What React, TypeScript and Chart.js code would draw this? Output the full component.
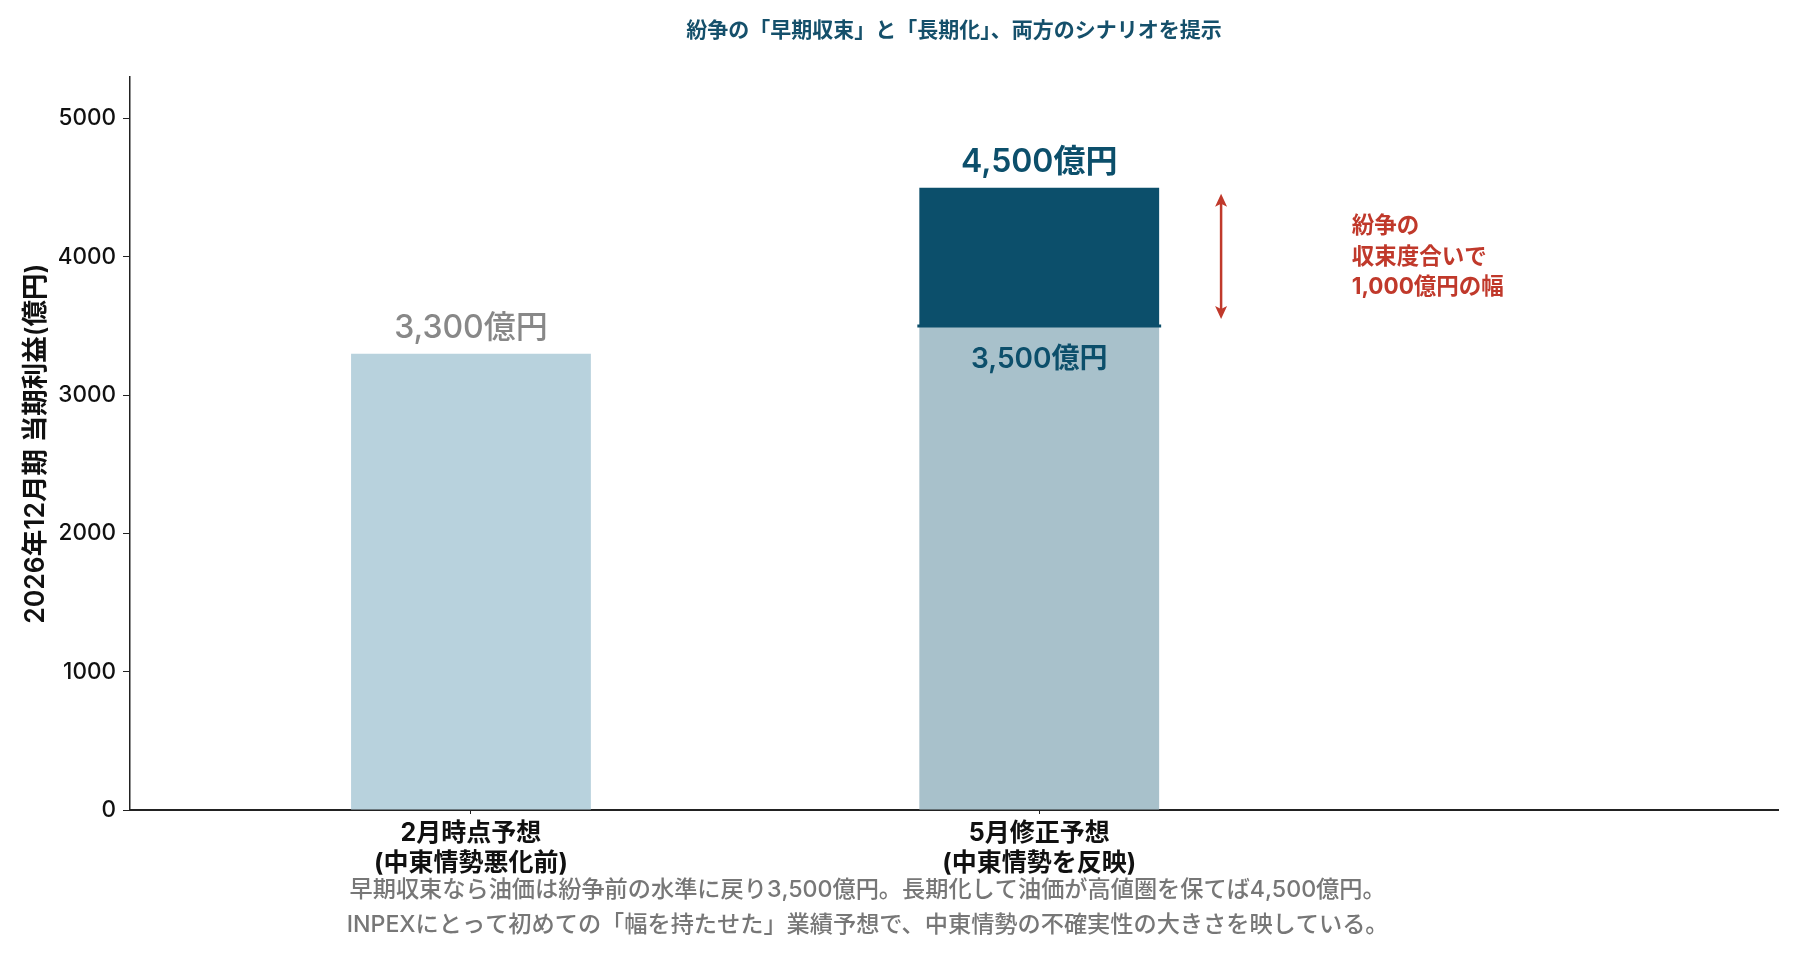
import { useEffect, useRef } from "react";
import { Chart, registerables } from "chart.js";

Chart.register(...registerables);

// ---- data ----
const CATEGORY_POSITIONS = [0, 1];
const CATEGORY_LABELS = [
  ["2月時点予想", "(中東情勢悪化前)"],
  ["5月修正予想", "(中東情勢を反映)"],
];
const FEB_FORECAST = [3300];
const MAY_EARLY_END = [3500];
const MAY_RANGE_WIDTH = [1000];
const FEB_LABEL = "3,300億円";
const MAY_HIGH_LABEL = "4,500億円";
const MAY_LOW_LABEL = "3,500億円";
const Y_TICKS = [0, 1000, 2000, 3000, 4000, 5000];
const Y_MAX = 5300;
const X_MIN = -0.6;
const X_MAX = 2.3;
const ARROW_X = 1.32;
const ARROW_RANGE = [3500, 4500];
const NOTE_X = 1.55;
const NOTE_Y = 4000;
const NOTE_LINES = ["紛争の", "収束度合いで", "1,000億円の幅"];
const TITLE = "紛争の「早期収束」と「長期化」、両方のシナリオを提示";
const Y_TITLE = "2026年12月期 当期利益(億円)";
const FOOTER_LINES = [
  "早期収束なら油価は紛争前の水準に戻り3,500億円。長期化して油価が高値圏を保てば4,500億円。",
  "INPEXにとって初めての「幅を持たせた」業績予想で、中東情勢の不確実性の大きさを映している。",
];

// ---- styles ----
const FONT = 'Inter, "Noto Sans CJK JP", sans-serif';
const C_FEB = "#b8d2dd";
const C_MAY_BASE = "#a8c1cb";
const C_DARK = "#0c4f6b";
const C_GRAY = "#888888";
const C_RED = "#c0392b";
const C_AXIS = "#222222";

const overlayPlugin = {
  id: "overlay",
  afterDatasetsDraw(chart: any) {
    const ctx = chart.ctx;
    const xs = chart.scales.x;
    const ys = chart.scales.y;
    const febBar = chart.getDatasetMeta(0).data[0];
    const baseBar = chart.getDatasetMeta(1).data[0];
    const topBar = chart.getDatasetMeta(2).data[0];
    ctx.save();
    ctx.textAlign = "center";
    ctx.textBaseline = "middle";

    // value labels
    ctx.font = `500 32px ${FONT}`;
    ctx.fillStyle = C_GRAY;
    ctx.fillText(FEB_LABEL, febBar.x, febBar.y - 25);
    ctx.fillStyle = C_DARK;
    ctx.font = `600 32px ${FONT}`;
    ctx.fillText(MAY_HIGH_LABEL, topBar.x, topBar.y - 25);

    // separator line at the early-end value
    const sepY = ys.getPixelForValue(MAY_EARLY_END[0]);
    const half = baseBar.width / 2;
    ctx.strokeStyle = C_DARK;
    ctx.lineWidth = 3;
    ctx.beginPath();
    ctx.moveTo(baseBar.x - half - 2, sepY);
    ctx.lineTo(baseBar.x + half + 2, sepY);
    ctx.stroke();

    ctx.font = `600 28px ${FONT}`;
    ctx.fillStyle = C_DARK;
    ctx.fillText(MAY_LOW_LABEL, baseBar.x, sepY + 34);

    // double arrow
    const ax = xs.getPixelForValue(ARROW_X);
    const y1 = ys.getPixelForValue(ARROW_RANGE[1]) + 6;
    const y0 = ys.getPixelForValue(ARROW_RANGE[0]) - 7;
    ctx.strokeStyle = C_RED;
    ctx.fillStyle = C_RED;
    ctx.lineWidth = 2.5;
    ctx.beginPath();
    ctx.moveTo(ax, y1 + 4);
    ctx.lineTo(ax, y0 - 4);
    ctx.stroke();
    const head = (tipY: number, dir: number) => {
      ctx.beginPath();
      ctx.moveTo(ax, tipY);
      ctx.lineTo(ax - 6, tipY + dir * 13);
      ctx.lineTo(ax, tipY + dir * 10);
      ctx.lineTo(ax + 6, tipY + dir * 13);
      ctx.closePath();
      ctx.fill();
    };
    head(y1, 1);
    head(y0, -1);

    // note text
    ctx.textAlign = "left";
    ctx.font = `bold 22.5px ${FONT}`;
    const nx = xs.getPixelForValue(NOTE_X);
    const ny = ys.getPixelForValue(NOTE_Y);
    NOTE_LINES.forEach((t, i) => {
      ctx.fillText(t, nx, ny + (i - 1) * 30.5);
    });

    // footer
    ctx.textAlign = "center";
    ctx.font = `500 23.2px ${FONT}`;
    ctx.fillStyle = "#777777";
    const fx = chart.width * 0.482;
    FOOTER_LINES.forEach((t, i) => {
      ctx.fillText(t, fx, chart.height - 70 + i * 35);
    });
    ctx.restore();
  },
};

export default function App() {
  const ref = useRef<HTMLCanvasElement | null>(null);
  useEffect(() => {
    if (!ref.current) return;
    const chart = new Chart(ref.current, {
      type: "bar",
      data: {
        datasets: [
          {
            label: "2月時点予想",
            data: FEB_FORECAST.map((v) => ({ x: CATEGORY_POSITIONS[0], y: v })),
            backgroundColor: C_FEB,
            barPercentage: 0.422,
            categoryPercentage: 1,
          },
          {
            label: "早期収束",
            data: MAY_EARLY_END.map((v) => ({ x: CATEGORY_POSITIONS[1], y: v })),
            backgroundColor: C_MAY_BASE,
            barPercentage: 0.422,
            categoryPercentage: 1,
          },
          {
            label: "長期化",
            data: MAY_RANGE_WIDTH.map((v) => ({ x: CATEGORY_POSITIONS[1], y: v })),
            backgroundColor: C_DARK,
            barPercentage: 0.422,
            categoryPercentage: 1,
          },
        ],
      } as any,
      options: {
        animation: false,
        responsive: true,
        maintainAspectRatio: false,
        layout: { padding: { left: 0, right: 22, top: 0, bottom: 0 } },
        plugins: {
          legend: { display: false },
          tooltip: { enabled: false },
          title: {
            display: true,
            text: TITLE,
            fullSize: false,
            color: "#15506b",
            font: { family: FONT, size: 21, weight: "bold" },
            padding: { top: 18, bottom: 34 },
          },
        },
        scales: {
          x: {
            type: "linear",
            min: X_MIN,
            max: X_MAX,
            offset: false,
            stacked: true,
            afterBuildTicks: (s: any) => {
              s.ticks = CATEGORY_POSITIONS.map((v) => ({ value: v }));
            },
            afterFit: (s: any) => {
              s.height = 150;
            },
            border: { display: true, color: C_AXIS, width: 2 },
            grid: { offset: false, drawOnChartArea: false, drawTicks: true, tickLength: 4, color: C_AXIS },
            ticks: {
              autoSkip: false,
              maxRotation: 0,
              padding: 4,
              color: "#111111",
              font: { family: FONT, size: 25, weight: "bold", lineHeight: 1.2 },
              callback: (v: any) => {
                const i = CATEGORY_POSITIONS.indexOf(Number(v));
                return i >= 0 ? CATEGORY_LABELS[i] : "";
              },
            },
          },
          y: {
            type: "linear",
            min: 0,
            max: Y_MAX,
            stacked: true,
            afterBuildTicks: (s: any) => {
              s.ticks = Y_TICKS.map((v) => ({ value: v }));
            },
            afterFit: (s: any) => {
              s.width = 130;
            },
            border: { display: true, color: C_AXIS, width: 1.5 },
            grid: { drawOnChartArea: false, drawTicks: true, tickLength: 7, color: C_AXIS },
            ticks: {
              padding: 7,
              color: "#111111",
              font: { family: FONT, size: 22.5, weight: "500" },
              callback: (v: any) => String(v),
            },
            title: {
              display: true,
              text: Y_TITLE,
              color: "#111111",
              font: { family: FONT, size: 26.5, weight: "600" },
              padding: { top: 20, bottom: 0 },
            },
          },
        },
      },
      plugins: [overlayPlugin],
    });
    return () => chart.destroy();
  }, []);
  return (
    <div style={{ position: "fixed", left: 0, top: 0, width: 1800, height: 960, background: "#fff" }}>
      <canvas ref={ref} />
    </div>
  );
}
